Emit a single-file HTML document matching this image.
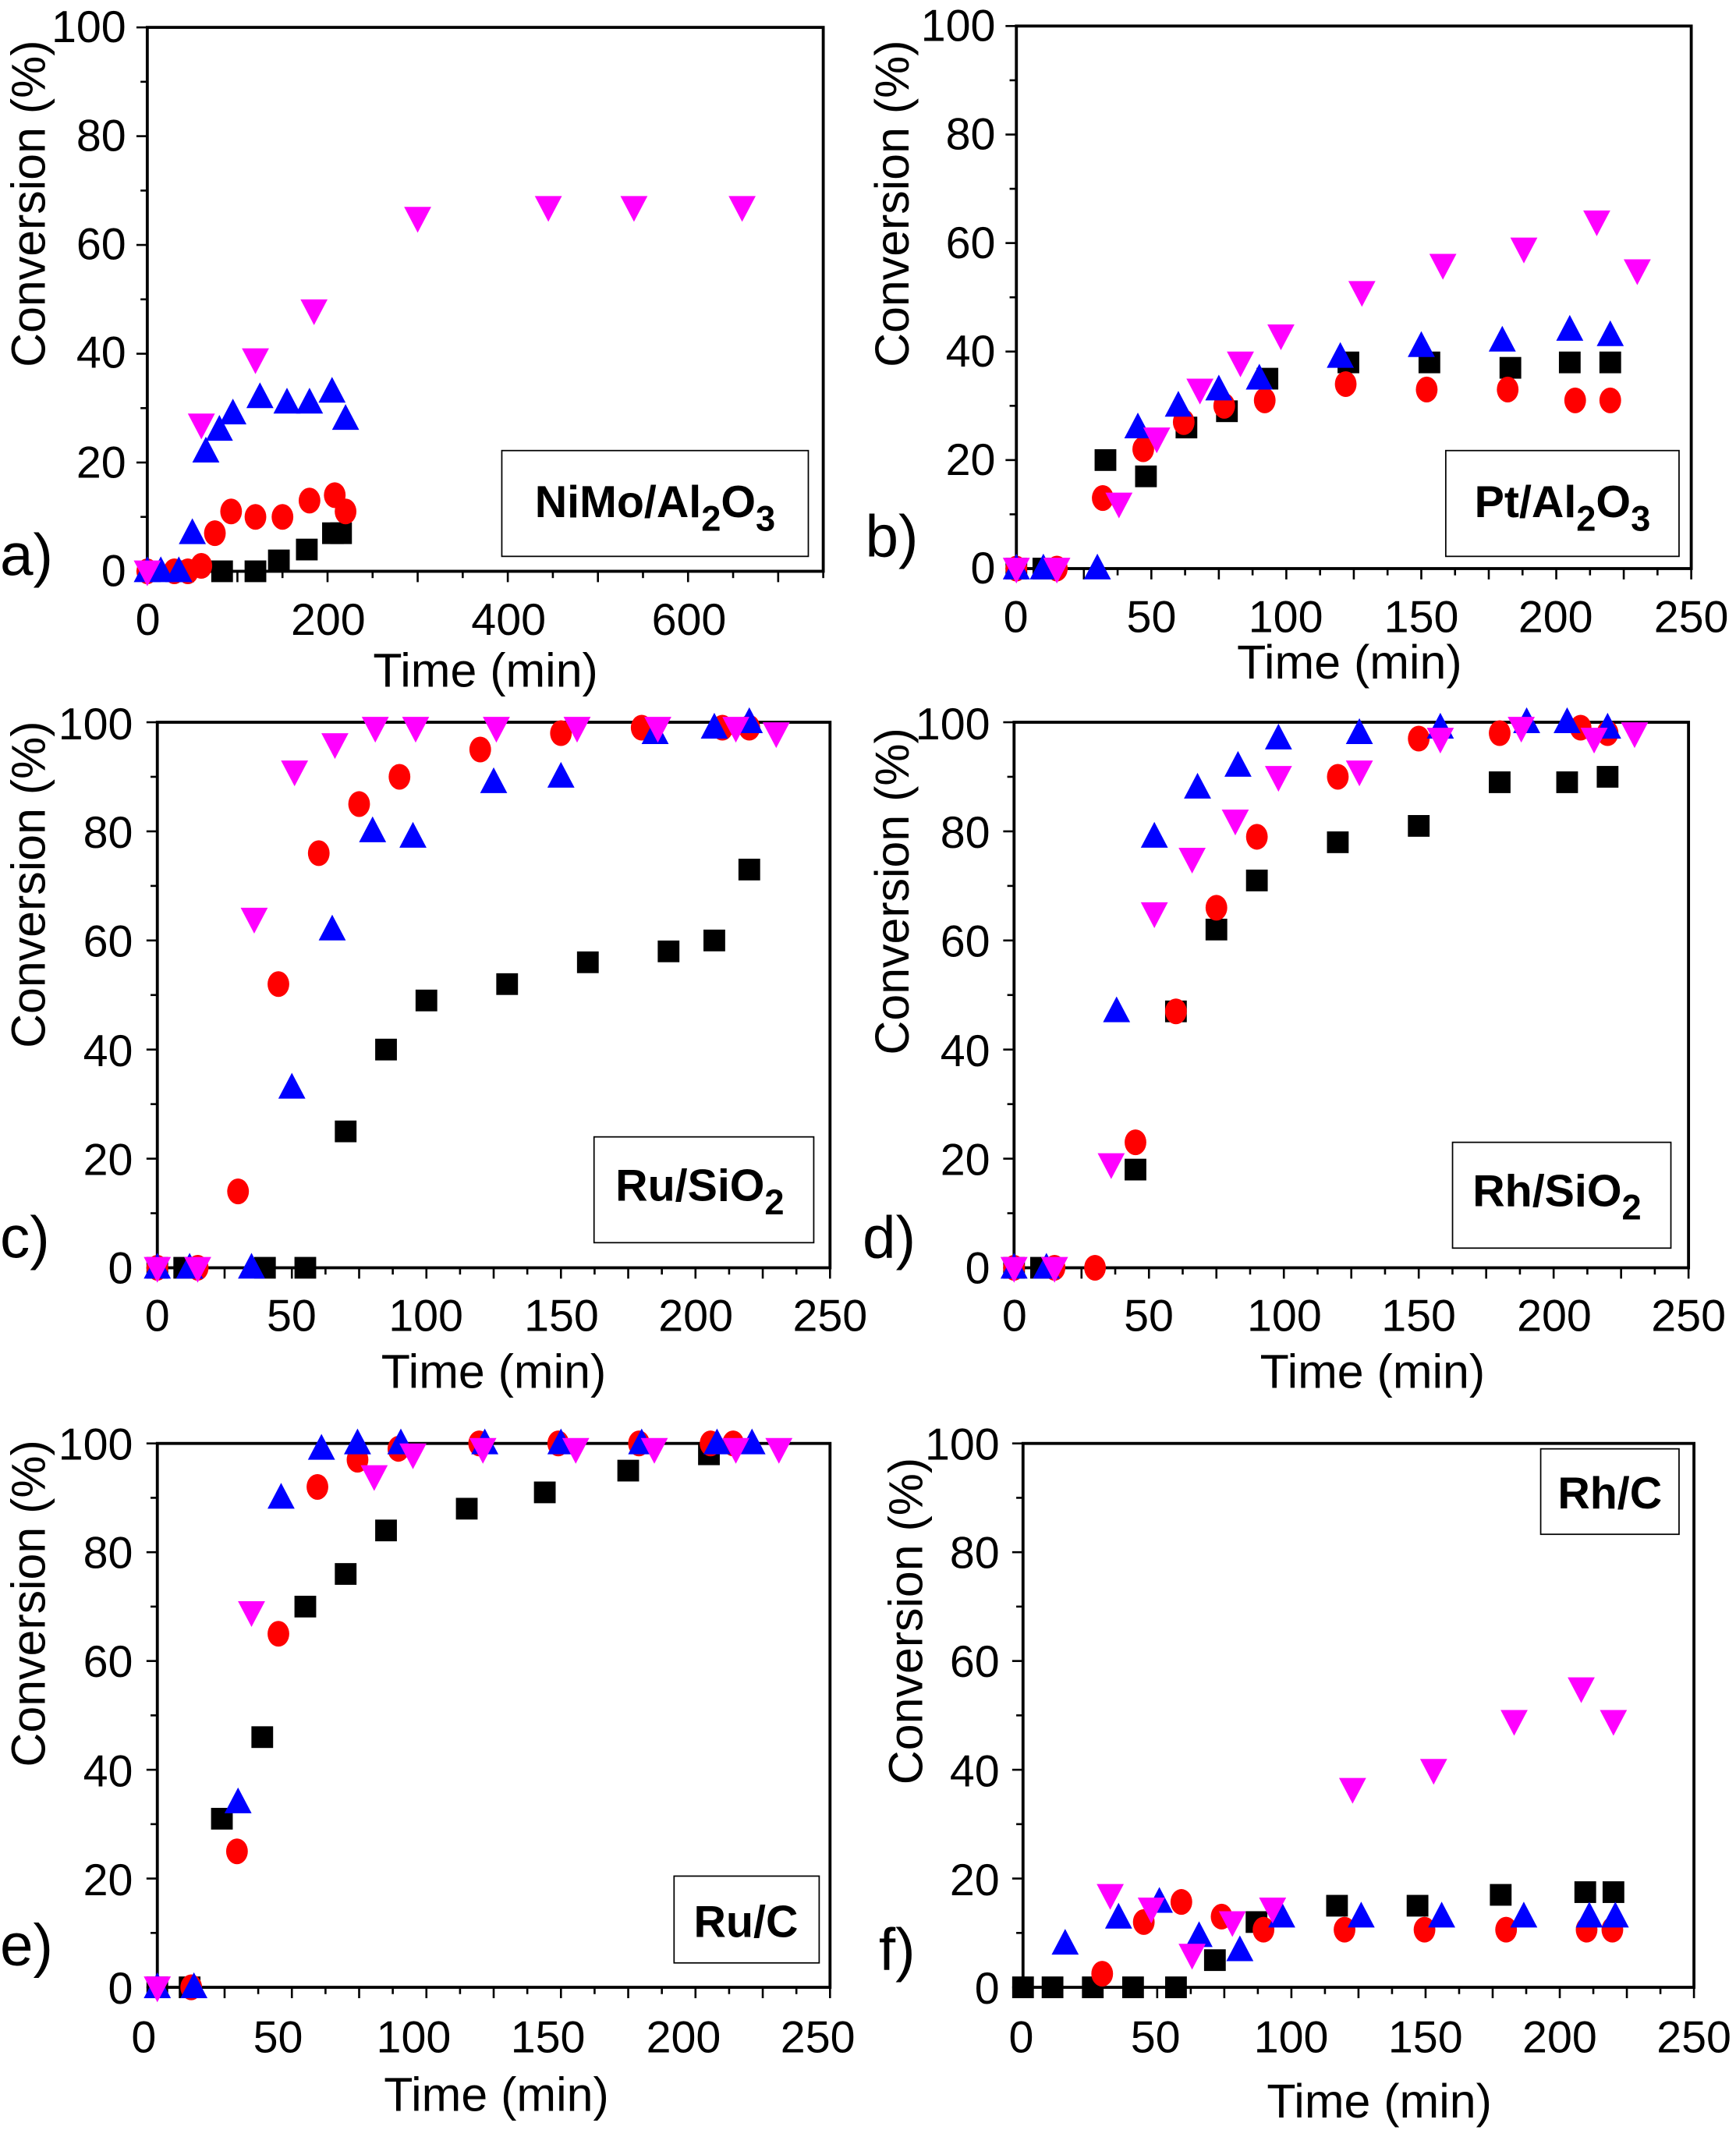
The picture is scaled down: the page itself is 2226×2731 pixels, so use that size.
<!DOCTYPE html>
<html><head><meta charset="utf-8"><style>
html,body{margin:0;padding:0;background:#fff}
svg{display:block}
text{font-family:"Liberation Sans",Arial,sans-serif;fill:#000}
.yl{font-size:33px;text-anchor:end}
.xl{font-size:33px;text-anchor:middle}
.ax{font-size:35px;text-anchor:middle}
.lg{font-size:33px;font-weight:bold;text-anchor:middle}
.pl{font-size:44px}
</style></head><body>
<svg id="s" width="2226" height="2731" viewBox="0 0 1280 1570" xmlns="http://www.w3.org/2000/svg">
<rect width="1280" height="1570" fill="#fff"/>
<g id="g"></g>
<!-- panel a -->
<text class="yl" x="93" y="432">0</text><text class="yl" x="93" y="352">20</text><text class="yl" x="93" y="271">40</text><text class="yl" x="93" y="191">60</text><text class="yl" x="93" y="111">80</text><text class="yl" x="93" y="31">100</text>
<text class="xl" x="109" y="468">0</text><text class="xl" x="242" y="468">200</text><text class="xl" x="375" y="468">400</text><text class="xl" x="508" y="468">600</text>
<text class="ax" x="358" y="506">Time (min)</text>
<text class="ax" transform="translate(33,150) rotate(-90)">Conversion (%)</text>
<text class="pl" x="0" y="424">a)</text>
<rect x="370" y="332" width="226" height="78" fill="none" stroke="#000" stroke-width="1"/>
<text class="lg" x="483" y="381">NiMo/Al<tspan font-size="26" dy="10">2</tspan><tspan dy="-10">O</tspan><tspan font-size="26" dy="10">3</tspan></text>
<!-- panel b -->
<text class="yl" x="734" y="430">0</text><text class="yl" x="734" y="350">20</text><text class="yl" x="734" y="270">40</text><text class="yl" x="734" y="190">60</text><text class="yl" x="734" y="110">80</text><text class="yl" x="734" y="30">100</text>
<text class="xl" x="749" y="466">0</text><text class="xl" x="849" y="466">50</text><text class="xl" x="948" y="466">100</text><text class="xl" x="1048" y="466">150</text><text class="xl" x="1147" y="466">200</text><text class="xl" x="1247" y="466">250</text>
<text class="ax" x="995" y="500">Time (min)</text>
<text class="ax" transform="translate(670,150) rotate(-90)">Conversion (%)</text>
<text class="pl" x="638" y="410">b)</text>
<rect x="1066" y="332" width="172" height="78" fill="none" stroke="#000" stroke-width="1"/>
<text class="lg" x="1152" y="381">Pt/Al<tspan font-size="26" dy="10">2</tspan><tspan dy="-10">O</tspan><tspan font-size="26" dy="10">3</tspan></text>
<!-- panel c -->
<text class="yl" x="98" y="946">0</text><text class="yl" x="98" y="866">20</text><text class="yl" x="98" y="786">40</text><text class="yl" x="98" y="705">60</text><text class="yl" x="98" y="625">80</text><text class="yl" x="98" y="545">100</text>
<text class="xl" x="116" y="981">0</text><text class="xl" x="215" y="981">50</text><text class="xl" x="314" y="981">100</text><text class="xl" x="414" y="981">150</text><text class="xl" x="513" y="981">200</text><text class="xl" x="612" y="981">250</text>
<text class="ax" x="364" y="1023">Time (min)</text>
<text class="ax" transform="translate(33,652) rotate(-90)">Conversion (%)</text>
<text class="pl" x="0" y="927">c)</text>
<rect x="438" y="838" width="162" height="78" fill="none" stroke="#000" stroke-width="1"/>
<text class="lg" x="516" y="885">Ru/SiO<tspan font-size="26" dy="10">2</tspan></text>
<!-- panel d -->
<text class="yl" x="730" y="946">0</text><text class="yl" x="730" y="866">20</text><text class="yl" x="730" y="786">40</text><text class="yl" x="730" y="705">60</text><text class="yl" x="730" y="625">80</text><text class="yl" x="730" y="545">100</text>
<text class="xl" x="748" y="981">0</text><text class="xl" x="847" y="981">50</text><text class="xl" x="947" y="981">100</text><text class="xl" x="1046" y="981">150</text><text class="xl" x="1146" y="981">200</text><text class="xl" x="1245" y="981">250</text>
<text class="ax" x="1012" y="1023">Time (min)</text>
<text class="ax" transform="translate(670,657) rotate(-90)">Conversion (%)</text>
<text class="pl" x="636" y="927">d)</text>
<rect x="1071" y="842" width="161" height="78" fill="none" stroke="#000" stroke-width="1"/>
<text class="lg" x="1148" y="889">Rh/SiO<tspan font-size="26" dy="10">2</tspan></text>
<!-- panel e -->
<text class="yl" x="98" y="1477">0</text><text class="yl" x="98" y="1397">20</text><text class="yl" x="98" y="1317">40</text><text class="yl" x="98" y="1236">60</text><text class="yl" x="98" y="1156">80</text><text class="yl" x="98" y="1076">100</text>
<text class="xl" x="106" y="1513">0</text><text class="xl" x="205" y="1513">50</text><text class="xl" x="305" y="1513">100</text><text class="xl" x="404" y="1513">150</text><text class="xl" x="504" y="1513">200</text><text class="xl" x="603" y="1513">250</text>
<text class="ax" x="366" y="1556">Time (min)</text>
<text class="ax" transform="translate(33,1182) rotate(-90)">Conversion (%)</text>
<text class="pl" x="0" y="1449">e)</text>
<rect x="497" y="1383" width="107" height="64" fill="none" stroke="#000" stroke-width="1"/>
<text class="lg" x="550" y="1428">Ru/C</text>
<!-- panel f -->
<text class="yl" x="737" y="1477">0</text><text class="yl" x="737" y="1397">20</text><text class="yl" x="737" y="1317">40</text><text class="yl" x="737" y="1236">60</text><text class="yl" x="737" y="1156">80</text><text class="yl" x="737" y="1076">100</text>
<text class="xl" x="753" y="1513">0</text><text class="xl" x="852" y="1513">50</text><text class="xl" x="952" y="1513">100</text><text class="xl" x="1051" y="1513">150</text><text class="xl" x="1150" y="1513">200</text><text class="xl" x="1249" y="1513">250</text>
<text class="ax" x="1017" y="1561">Time (min)</text>
<text class="ax" transform="translate(680,1195) rotate(-90)">Conversion (%)</text>
<text class="pl" x="648" y="1452">f)</text>
<rect x="1136" y="1068" width="102" height="63" fill="none" stroke="#000" stroke-width="1"/>
<text class="lg" x="1187" y="1112">Rh/C</text>
</svg>
<script>
var g=document.getElementById('g'),NS='http://www.w3.org/2000/svg';
function el(t,a){var e=document.createElementNS(NS,t);for(var k in a)e.setAttribute(k,a[k]);g.appendChild(e);return e;}
var P=[
{x0:108.6,x1:607,xm:750,xt:100,y0:421,y1:20,
d:[[[40,0],[83,0],[120,0],[146,2],[177,4],[206,7],[215,7]],
[[0,0],[30,0],[45,0],[60,1],[75,7],[93,11],[120,10],[150,10],[180,13],[208,14],[220,11]],
[[0,0],[15,0],[35,0],[50,7],[65,22],[80,26],[95,29],[125,32],[155,31],[180,31],[205,33],[220,28]],
[[0,0],[60,27],[120,39],[185,48],[300,65],[445,67],[540,67],[660,67]]]},
{x0:749.4,x1:1247,xm:250,xt:25,y0:419,y1:19,
d:[[[0,0],[10,0],[33,20],[48,17],[63,26],[78,29],[93,35],[123,38],[153,38],[183,37],[205,38],[220,38]],
[[0,0],[15,0],[32,13],[47,22],[62,27],[77,30],[92,31],[122,34],[152,33],[182,33],[207,31],[220,31]],
[[0,0],[10,0],[30,0],[45,26],[60,30],[75,33],[90,35],[120,39],[150,41],[180,42],[205,44],[220,43]],
[[0,0],[15,0],[38,12],[52,24],[68,33],[83,38],[98,43],[128,51],[158,56],[188,59],[215,64],[230,55]]]},
{x0:116,x1:612,xm:250,xt:25,y0:934.5,y1:532.3,
d:[[[0,0],[10,0],[40,0],[55,0],[70,25],[85,40],[100,49],[130,52],[160,56],[190,58],[207,60],[220,73]],
[[0,0],[15,0],[30,14],[45,52],[60,76],[75,85],[90,90],[120,95],[150,98],[180,99],[210,99],[220,99]],
[[0,0],[12,0],[35,0],[50,33],[65,62],[80,80],[95,79],[125,89],[150,90],[185,98],[207,99],[220,100]],
[[0,0],[15,0],[36,64],[51,91],[66,96],[81,99],[96,99],[126,99],[156,99],[186,99],[215,99],[230,98]]]},
{x0:747.7,x1:1245,xm:250,xt:25,y0:934.5,y1:532.3,
d:[[[0,0],[10,0],[45,18],[60,47],[75,62],[90,71],[120,78],[150,81],[180,89],[205,89],[220,90]],
[[0,0],[15,0],[30,0],[45,23],[60,47],[75,66],[90,79],[120,90],[150,97],[180,98],[210,99],[220,98]],
[[0,0],[12,0],[38,47],[52,79],[68,88],[83,92],[98,97],[128,98],[158,99],[190,100],[205,100],[220,99]],
[[0,0],[15,0],[36,19],[52,65],[66,75],[82,82],[98,90],[128,91],[158,97],[188,99],[215,97],[230,98]]]},
{x0:116,x1:612,xm:250,xt:25,y0:1465,y1:1064,
d:[[[0,0],[12,0],[24,31],[39,46],[55,70],[70,76],[85,84],[115,88],[144,91],[175,95],[205,98]],
[[12.6,0],[29.6,25],[45,65],[59.5,92],[74.4,97],[89.6,99],[119.6,100],[149,100],[179,100],[205.6,100],[214,100]],
[[0,0],[13.6,0],[30,34],[46,90],[61,99],[74.4,100],[90.5,100],[121.7,100],[150,100],[180,100],[208,100],[221,100]],
[[0,0],[35,69],[80.6,94],[95,98],[121,99],[155.5,99],[184.7,99],[215,99],[231,99]]]},
{x0:754.3,x1:1249,xm:250,xt:25,y0:1465,y1:1064,
d:[[[0,0],[11,0],[26,0],[41,0],[57,0],[71.5,5],[87,12],[117,15],[147,15],[178,17],[209.5,17.5],[220,17.5]],
[[29.5,2.5],[45,12],[59,15.7],[74,13],[89.6,10.6],[119.8,10.6],[149.6,10.6],[180,10.6],[210,10.6],[219.6,10.6]],
[[15.7,8],[35.6,12.8],[50.8,15.7],[65.6,9.4],[80.8,6.8],[96.4,13],[126,13],[156,13],[186.6,13],[211,13],[220.7,13]],
[[32.5,17],[47.8,14.5],[63,6],[78,12],[93,14.5],[122.8,36.5],[153,40],[183,49],[208,55],[220,49]]]}
];
P.forEach(function(p){
 var sx=(p.x1-p.x0)/p.xm, sy=(p.y0-p.y1)/100;
 el('rect',{x:p.x0,y:p.y1,width:p.x1-p.x0,height:p.y0-p.y1,fill:'none',stroke:'#000','stroke-width':2.2});
 for(var v=0;v<=100;v+=10){var y=p.y0-v*sy;el('line',{x1:p.x0,x2:p.x0-(v%20?5:8),y1:y,y2:y,stroke:'#000','stroke-width':1.5});}
 for(var t=0;t<=p.xm+1e-6;t+=p.xt/2){var x=p.x0+t*sx,maj=Math.abs(t/p.xt-Math.round(t/p.xt))<1e-6;el('line',{x1:x,x2:x,y1:p.y0,y2:p.y0+(maj?8:5),stroke:'#000','stroke-width':1.5});}
 var cols=['#000','#ff0000','#0000ff','#ff00ff'];
 p.d.forEach(function(s,i){s.forEach(function(q){
  var x=p.x0+q[0]*sx,y=p.y0-q[1]*sy;
  if(i==0)el('rect',{x:x-8,y:y-8,width:16,height:16,fill:cols[0]});
  else if(i==1)el('ellipse',{cx:x,cy:y,rx:8,ry:9.5,fill:cols[1]});
  else if(i==2)el('polygon',{points:(x-10)+','+(y+8)+' '+(x+10)+','+(y+8)+' '+x+','+(y-11),fill:cols[2]});
  else el('polygon',{points:(x-10)+','+(y-8)+' '+(x+10)+','+(y-8)+' '+x+','+(y+11),fill:cols[3]});
 });});
});
</script>
</body></html>
